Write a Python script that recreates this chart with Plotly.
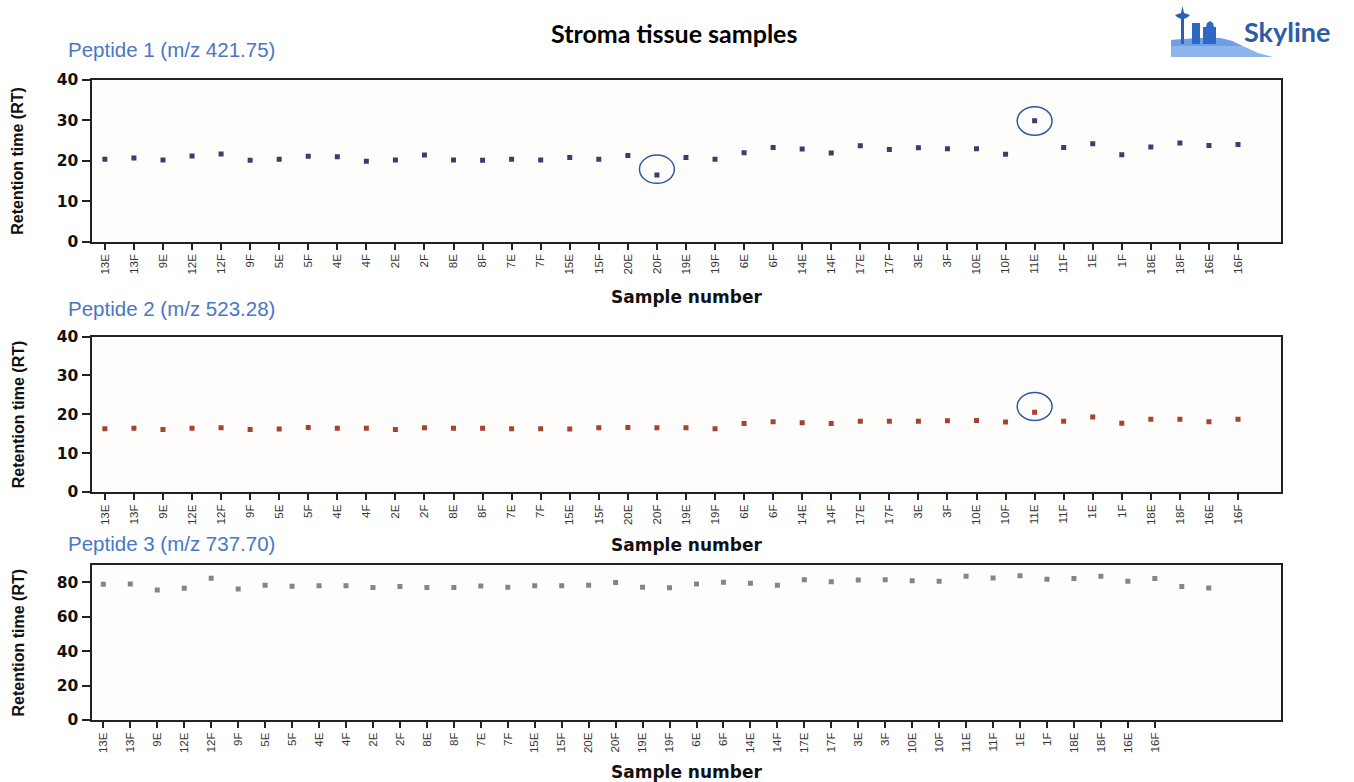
import plotly.graph_objects as go

W, H = 1354, 782

samples = ["13E", "13F", "9E", "12E", "12F", "9F", "5E", "5F", "4E", "4F",
           "2E", "2F", "8E", "8F", "7E", "7F", "15E", "15F", "20E", "20F",
           "19E", "19F", "6E", "6F", "14E", "14F", "17E", "17F", "3E", "3F",
           "10E", "10F", "11E", "11F", "1E", "1F", "18E", "18F", "16E", "16F"]

rt_pep1 = [20.4, 20.7, 20.2, 21.2, 21.7, 20.1, 20.4, 21.1, 21.0, 19.9,
           20.2, 21.4, 20.2, 20.1, 20.4, 20.2, 20.8, 20.4, 21.3, 16.5,
           20.8, 20.4, 22.0, 23.3, 22.9, 21.9, 23.7, 22.8, 23.2, 23.0,
           23.0, 21.6, 29.9, 23.3, 24.2, 21.5, 23.4, 24.4, 23.8, 24.0]

rt_pep2 = [16.3, 16.4, 16.1, 16.4, 16.5, 16.1, 16.2, 16.6, 16.4, 16.4,
           16.1, 16.5, 16.4, 16.4, 16.3, 16.3, 16.2, 16.5, 16.6, 16.5,
           16.5, 16.3, 17.6, 18.1, 17.8, 17.6, 18.2, 18.2, 18.2, 18.3,
           18.4, 18.0, 20.5, 18.2, 19.3, 17.7, 18.7, 18.7, 18.1, 18.7]

# peptide 3 has two trailing runs beyond the labelled samples
rt_pep3 = [78.8, 79.0, 75.5, 76.5, 82.3, 76.1, 78.2, 77.6, 78.0, 78.0,
           76.9, 77.5, 76.9, 76.9, 77.8, 77.1, 78.0, 78.0, 78.2, 79.8,
           77.1, 76.8, 79.0, 80.0, 79.4, 78.2, 81.5, 80.3, 81.3, 81.5,
           80.9, 80.5, 83.4, 82.5, 83.8, 81.7, 82.1, 83.4, 80.5, 82.1,
           77.5, 76.7]

panel_titles = ["Peptide 1 (m/z 421.75)", "Peptide 2 (m/z 523.28)",
                "Peptide 3 (m/z 737.70)"]
main_title = "Stroma tissue samples"
x_title = "Sample number"
y_title = "Retention time (RT)"

# highlighted outliers: (panel, sample, y-low, y-high)
outliers = [(1, "20F", 14.4, 21.4), (1, "11E", 26.3, 33.4), (2, "11E", 18.4, 25.6)]

marker_colors = ["#3f3b6e", "#a5432f", "#858585"]

SANS = "Liberation Sans, Arial"
WIDE_BOLD = "DejaVu Sans"


def px_x(x):
    return x / W


def px_y(y):
    return 1 - y / H


# pixel bounds of each plot box (top, bottom)
boxes = [(80, 241.5), (336.5, 492), (565, 720)]
x_left, x_right = 91.5, 1281

fig = go.Figure()

series = [rt_pep1, rt_pep2, rt_pep3]
for i, vals in enumerate(series):
    sfx = "" if i == 0 else str(i + 1)
    fig.add_trace(go.Scatter(
        x=list(range(len(vals))), y=vals, mode="markers",
        marker=dict(symbol="square", size=5, color=marker_colors[i]),
        xaxis="x" + sfx, yaxis="y" + sfx, showlegend=False,
        hoverinfo="skip"))

layout = dict(
    template="none",
    width=W, height=H,
    margin=dict(l=0, r=0, t=0, b=0, pad=0, autoexpand=False),
    paper_bgcolor="white", plot_bgcolor="#fffdfc",
    font=dict(family=SANS, color="#222"),
)

x_ranges = [[-0.46, 40.48], [-0.46, 40.48], [-0.44, 43.68]]
y_ranges = [[0, 40], [0, 40], [0, 90]]
y_ticks = [[0, 10, 20, 30, 40], [0, 10, 20, 30, 40], [0, 20, 40, 60, 80]]

for i in range(3):
    sfx = "" if i == 0 else str(i + 1)
    top, bot = boxes[i]
    layout["xaxis" + sfx] = dict(
        domain=[px_x(x_left), px_x(x_right)], anchor="y" + sfx,
        range=x_ranges[i], tickmode="array", automargin=False,
        tickvals=list(range(len(samples))), ticktext=samples,
        tickangle=-90, ticks="outside", ticklen=6, tickwidth=2,
        tickcolor="#222", showline=True, linecolor="#222", linewidth=2,
        mirror=True, showgrid=False, zeroline=False,
        tickfont=dict(size=11.5, color="#333", family=SANS))
    layout["yaxis" + sfx] = dict(
        domain=[px_y(bot), px_y(top)], anchor="x" + sfx,
        range=y_ranges[i], tickmode="array", tickvals=y_ticks[i],
        automargin=False,
        ticks="outside", ticklen=8, tickwidth=2, tickcolor="#222",
        showline=True, linecolor="#222", linewidth=2, mirror=True,
        showgrid=False, zeroline=False,
        tickfont=dict(size=15.5, color="#111", family=WIDE_BOLD,
                      weight="bold"))

fig.update_layout(**layout)

annotations = []
title_y = [50, 308, 543]
xtitle_y = [297, 545, 772]
for i in range(3):
    top, bot = boxes[i]
    annotations.append(dict(
        text=panel_titles[i], xref="paper", yref="paper",
        x=px_x(66), y=px_y(title_y[i]), xanchor="left", yanchor="middle",
        showarrow=False, font=dict(size=20.5, color="#4a76c6", family=SANS)))
    annotations.append(dict(
        text="<b>" + x_title + "</b>", xref="paper", yref="paper",
        x=px_x(686), y=px_y(xtitle_y[i]), xanchor="center", yanchor="middle",
        showarrow=False, font=dict(size=17, color="#111", family=WIDE_BOLD)))
    annotations.append(dict(
        text="<b>" + y_title + "</b>", xref="paper", yref="paper",
        x=px_x(18), y=px_y((top + bot) / 2), xanchor="center",
        yanchor="middle", textangle=-90, showarrow=False,
        font=dict(size=16, color="#111", family=SANS)))

annotations.append(dict(
    text="<b>" + main_title + "</b>", xref="paper", yref="paper",
    x=px_x(674), y=px_y(32.5), xanchor="center", yanchor="middle",
    showarrow=False, font=dict(size=25, color="#000", family="Lato")))

annotations.append(dict(
    text="Skyline", xref="paper", yref="paper",
    x=px_x(1242), y=px_y(31.5), xanchor="left", yanchor="middle",
    showarrow=False, font=dict(size=27, color="#2c5ca6", family="Lato",
                               weight="bold")))

shapes = []
for panel, name, ylo, yhi in outliers:
    sfx = "" if panel == 1 else str(panel)
    idx = samples.index(name)
    shapes.append(dict(
        type="circle", xref="x" + sfx, yref="y" + sfx,
        x0=idx - 0.6, x1=idx + 0.6, y0=ylo, y1=yhi,
        line=dict(color="#2f58a6", width=1.5)))


# Skyline logo: hill, buildings and needle in paper coordinates
def path_from(points):
    pts = [f"{px_x(x):.5f},{px_y(y):.5f}" for x, y in points]
    return "M " + " L ".join(pts) + " Z"


hill = [(1171, 57), (1171, 40), (1200, 38), (1220, 38), (1232, 41),
        (1245, 47), (1258, 53), (1273, 57)]
hill_top = [(1171, 46), (1171, 40), (1200, 38), (1220, 38), (1232, 41),
            (1242, 46)]
shapes.append(dict(type="path", xref="paper", yref="paper",
                   path=path_from(hill), fillcolor="#8cb5ec", line_width=0))
shapes.append(dict(type="path", xref="paper", yref="paper",
                   path=path_from(hill_top), fillcolor="#6f9fe2",
                   line_width=0))
bldg1 = [(1192, 44), (1192, 23), (1200, 23), (1200, 44)]
bldg2 = [(1203, 44), (1203, 27), (1206, 27), (1207, 23), (1210, 21),
         (1213, 23), (1214, 27), (1216, 27), (1216, 44)]
for b in (bldg1, bldg2):
    shapes.append(dict(type="path", xref="paper", yref="paper",
                       path=path_from(b), fillcolor="#2f68c2", line_width=0))
needle = [(1181, 44), (1181, 19), (1177, 17), (1175, 15), (1181, 13),
          (1182.5, 6), (1184, 13), (1190, 15), (1188, 17), (1184, 19),
          (1184, 44)]
shapes.append(dict(type="path", xref="paper", yref="paper",
                   path=path_from(needle), fillcolor="#2a5fb8", line_width=0))

fig.update_layout(annotations=annotations, shapes=shapes)

fig.write_html("out.html")
